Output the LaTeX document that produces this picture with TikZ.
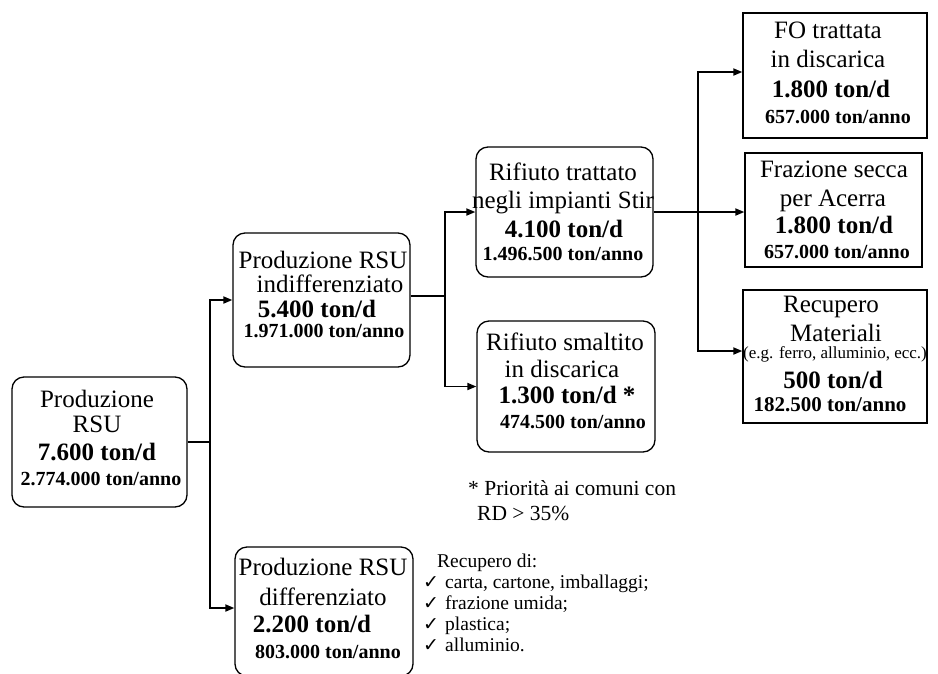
\documentclass[tikz,border=0pt]{standalone}
\usepackage{fontspec}
\setmainfont{Liberation Serif}
\newfontfamily\dejavu{DejaVu Sans}
\usetikzlibrary{arrows.meta}
\tikzset{
  rbox/.style={draw, line width=1.3pt, rounded corners=12pt, inner sep=0pt},
  sbox/.style={draw, line width=1.3pt, inner sep=0pt},
  reg/.style={inner sep=0pt, anchor=base, font=\fontsize{25}{27}\selectfont},
  big/.style={inner sep=0pt, anchor=base, font=\fontsize{25}{27}\selectfont\bfseries},
  small/.style={inner sep=0pt, anchor=base, font=\fontsize{20}{22}\selectfont\bfseries},
  tiny/.style={inner sep=0pt, anchor=base, font=\fontsize{17}{19}\selectfont},
  note/.style={inner sep=0pt, anchor=base west, font=\fontsize{21.5}{23}\selectfont},
  lst/.style={inner sep=0pt, anchor=base west, font=\fontsize{19.5}{21}\selectfont},
  chk/.style={inner sep=0pt, anchor=base, font=\dejavu\fontsize{19}{21}\selectfont},
  conn/.style={line width=1.8pt},
  arr/.style={line width=1.8pt, -{Triangle[length=9pt,width=7pt]}}
}
\begin{document}
\begin{tikzpicture}[x=1pt,y=-1pt]
\useasboundingbox (0,0) rectangle (938,673);
\fill[white] (0,0) rectangle (938,673);
\clip (0,0) rectangle (938,673);
% boxes
\node[rbox, minimum width=175pt, minimum height=130pt] (b1) at (99.5,442) {};
\node[rbox, minimum width=177pt, minimum height=134pt] (b2) at (321.5,300) {};
\node[rbox, minimum width=177pt, minimum height=130pt] (b3) at (564.5,212) {};
\node[rbox, minimum width=178pt, minimum height=131pt] (b4) at (566,386.5) {};
\node[rbox, minimum width=178pt, minimum height=129pt] (b5) at (324,611.5) {};
\node[sbox, minimum width=184pt, minimum height=125pt] (fo) at (835,75.5) {};
\node[sbox, minimum width=177pt, minimum height=114pt] (fs) at (833.5,210) {};
\node[sbox, minimum width=184pt, minimum height=133pt] (rm) at (835,356.5) {};
% texts b1
\node[reg] (b1t1) at (97,407) {Produzione};
\node[reg] (b1t2) at (97,432) {RSU};
\node[big] (b1t3) at (97,460) {7.600 ton/d};
\node[small] (b1t4) at (101,485) {2.774.000 ton/anno};
% b2
\node[reg] (b2t1) at (323,268) {Produzione RSU};
\node[reg] (b2t2) at (330,292) {indifferenziato};
\node[big] (b2t3) at (317,317) {5.400 ton/d};
\node[small] (b2t4) at (324,337) {1.971.000 ton/anno};
% b3
\node[reg] (b3t1) at (563,180) {Rifiuto trattato};
\node[reg] (b3t2) at (563,208) {negli impianti Stir};
\node[big] (b3t3) at (564,237) {4.100 ton/d};
\node[small] (b3t4) at (563,260) {1.496.500 ton/anno};
% b4
\node[reg] (b4t1) at (565,350) {Rifiuto smaltito};
\node[reg] (b4t2) at (562,377) {in discarica};
\node[big] (b4t3) at (567,403) {1.300 ton/d *};
\node[small] (b4t4) at (573,428) {474.500 ton/anno};
% b5
\node[reg] (b5t1) at (323,575) {Produzione RSU};
\node[reg] (b5t2) at (323,605) {differenziato};
\node[big] (b5t3) at (312,632) {2.200 ton/d};
\node[small] (b5t4) at (328,658) {803.000 ton/anno};
% fo
\node[reg] (fot1) at (828,38) {FO trattata};
\node[reg] (fot2) at (828,67) {in discarica};
\node[big] (fot3) at (831,97) {1.800 ton/d};
\node[small] (fot4) at (838,123) {657.000 ton/anno};
% fs
\node[reg] (fst1) at (834,177) {Frazione secca};
\node[reg] (fst2) at (833,206) {per Acerra};
\node[big] (fst3) at (834,233) {1.800 ton/d};
\node[small] (fst4) at (837,258) {657.000 ton/anno};
% rm
\node[reg] (rmt1) at (831,312) {Recupero};
\node[reg] (rmt2) at (836,341) {Materiali};
\node[tiny] (rmt3) at (835,358) {(e.g. ferro, alluminio, ecc.)};
\node[big] (rmt4) at (833,388) {500 ton/d};
\node[small, font=\fontsize{21}{23}\selectfont\bfseries] (rmt5) at (830,411) {182.500 ton/anno};
% notes
\node[note] (n1) at (468,495) {* Priorit\`a ai comuni con};
\node[note] (n2) at (477,520) {RD > 35\%};
\node[lst] (l0) at (437,567) {Recupero di:};
\node[chk] (c1) at (431,588) {✓};
\node[lst] (l1) at (445,588) {carta, cartone, imballaggi;};
\node[chk] (c2) at (431,609) {✓};
\node[lst] (l2) at (445,609) {frazione umida;};
\node[chk] (c3) at (431,630) {✓};
\node[lst] (l3) at (445,630) {plastica;};
\node[chk] (c4) at (431,651) {✓};
\node[lst] (l4) at (445,651) {alluminio.};
% connectors
\coordinate (j1) at (210,442);
\coordinate (j2) at (445,296);
\coordinate (j3) at (698,212);
\draw[conn] (b1.east) -- (j1);
\draw[arr] (j1) |- (b2.west);
\draw[arr] (j1) |- ([yshift=3.5pt]b5.west);
\draw[conn] (b2.east |- j2) -- (j2);
\draw[arr] (j2) |- (b3.west);
\draw[arr] (j2) |- (b4.west);
\draw[arr] (b3.east) -- (b3.east -| fs.west);
\draw[arr] (j3) |- ([yshift=3.5pt]fo.west);
\draw[arr] (j3) |- ([yshift=5.5pt]rm.west);
\end{tikzpicture}
\end{document}
